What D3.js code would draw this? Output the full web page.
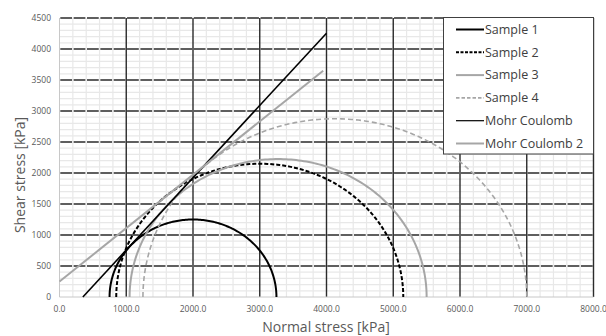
<!DOCTYPE html>
<html>
<head>
<meta charset="utf-8">
<script src="https://cdn.jsdelivr.net/npm/d3@7"></script>
<style>
  body { margin: 0; background: #fff; }
  svg { display: block; font-family: "Open Sans", "Noto Sans", sans-serif; }
</style>
</head>
<body>
<svg id="chart" width="606" height="336"></svg>
<script>
// Mohr circles: minor and major principal stresses (kPa)
const samples = ["Sample 1", "Sample 2", "Sample 3", "Sample 4"];
const sigma3 = [750, 850, 1050, 1250];
const sigma1 = [3250, 5150, 5500, 7000];

// Failure envelopes (normal stress, shear stress)
const envelopeNames = ["Mohr Coulomb", "Mohr Coulomb 2"];
const mohrCoulomb = [[350, 0], [4000, 4255]];
const mohrCoulomb2 = [[0, 250], [3950, 3650]];

// Axis ticks
const xTicks = [0, 1000, 2000, 3000, 4000, 5000, 6000, 7000, 8000];
const yTicks = [0, 500, 1000, 1500, 2000, 2500, 3000, 3500, 4000, 4500];

const svg = d3.select("#chart");
const x = d3.scaleLinear().domain([0, 8000]).range([59.5, 593.5]);
const y = d3.scaleLinear().domain([0, 4500]).range([297, 18]);

const grid = svg.append("g");

// minor grid
grid.selectAll(".mv").data(d3.range(200, 8000, 200).filter(v => v % 1000 !== 0))
  .join("line").attr("x1", d => x(d)).attr("x2", d => x(d))
  .attr("y1", y(0)).attr("y2", y(4500))
  .attr("stroke", "#e8e8e8").attr("stroke-width", 1.2);
grid.selectAll(".mh").data(d3.range(100, 4500, 100).filter(v => v % 500 !== 0))
  .join("line").attr("x1", x(0)).attr("x2", x(8000))
  .attr("y1", d => y(d)).attr("y2", d => y(d))
  .attr("stroke", "#e8e8e8").attr("stroke-width", 1.2);

// major horizontal grid (dashed)
const step = x(200) - x(0);
grid.selectAll(".Mh").data(yTicks.filter(v => v > 0))
  .join("line").attr("x1", x(0)).attr("x2", x(8000))
  .attr("y1", d => y(d)).attr("y2", d => y(d))
  .attr("stroke", "#2b2b2b").attr("stroke-width", 1.4)
  .attr("stroke-dasharray", `${step - 1.6},1.6`)
  .attr("stroke-dashoffset", -0.8);

// major vertical grid
grid.selectAll(".Mv").data(xTicks.filter(v => v > 0))
  .join("line").attr("x1", d => x(d)).attr("x2", d => x(d))
  .attr("y1", y(0)).attr("y2", y(4500))
  .attr("stroke", "#2b2b2b").attr("stroke-width", 1.4);

// axis lines
grid.append("line").attr("x1", x(0)).attr("x2", x(0)).attr("y1", y(0)).attr("y2", y(4500))
  .attr("stroke", "#c8c8c8").attr("stroke-width", 1);
grid.append("line").attr("x1", x(0)).attr("x2", x(8000)).attr("y1", y(0)).attr("y2", y(0))
  .attr("stroke", "#c8c8c8").attr("stroke-width", 1);

// tick labels
svg.append("g").selectAll("text").data(yTicks).join("text")
  .attr("x", 51).attr("y", d => y(d)).attr("dy", "0.35em")
  .attr("text-anchor", "end").attr("font-size", 8.5).attr("fill", "#595959")
  .text(d => d);
svg.append("g").selectAll("text").data(xTicks).join("text")
  .attr("x", d => x(d)).attr("y", 309).attr("dy", "0.35em")
  .attr("text-anchor", "middle").attr("font-size", 8.5).attr("fill", "#595959")
  .text(d => d3.format(".1f")(d));

// axis titles
svg.append("text").attr("x", 326).attr("y", 327).attr("dy", "0.35em")
  .attr("text-anchor", "middle").attr("font-size", 14).attr("fill", "#595959")
  .text("Normal stress [kPa]");
svg.append("text").attr("transform", "translate(20,175) rotate(-90)").attr("dy", "0.35em")
  .attr("text-anchor", "middle").attr("font-size", 14).attr("fill", "#595959")
  .text("Shear stress [kPa]");

// series styles
const styles = [
  { stroke: "#000", width: 2, dash: null },
  { stroke: "#000", width: 2, dash: "4,2" },
  { stroke: "#a6a6a6", width: 2, dash: null },
  { stroke: "#a6a6a6", width: 1.6, dash: "5,3" },
  { stroke: "#000", width: 1.6, dash: null },
  { stroke: "#a6a6a6", width: 2, dash: null }
];

const line = d3.line().x(d => x(d[0])).y(d => y(d[1]));
const plot = svg.append("g");

// Mohr circles (upper halves)
samples.forEach((name, i) => {
  const c = (sigma1[i] + sigma3[i]) / 2, r = (sigma1[i] - sigma3[i]) / 2;
  const pts = d3.range(0, 181).map(a => {
    const t = Math.PI * a / 180;
    return [c - r * Math.cos(t), r * Math.sin(t)];
  });
  const s = styles[i];
  plot.append("path").attr("d", line(pts)).attr("fill", "none")
    .attr("stroke", s.stroke).attr("stroke-width", s.width)
    .attr("stroke-dasharray", s.dash);
});

// envelopes
[mohrCoulomb, mohrCoulomb2].forEach((pts, j) => {
  const s = styles[4 + j];
  plot.append("path").attr("d", line(pts)).attr("fill", "none")
    .attr("stroke", s.stroke).attr("stroke-width", s.width);
});

// legend
const names = samples.concat(envelopeNames);
const lg = svg.append("g");
lg.append("rect").attr("x", 443.5).attr("y", 17.5).attr("width", 150).attr("height", 136.5)
  .attr("fill", "#fff").attr("stroke", "#404040").attr("stroke-width", 1);
names.forEach((n, i) => {
  const yy = 29.5 + i * 22.8;
  const s = styles[i];
  lg.append("line").attr("x1", 456).attr("x2", 484).attr("y1", yy).attr("y2", yy)
    .attr("stroke", s.stroke).attr("stroke-width", i === 4 ? 1.2 : s.width)
    .attr("stroke-dasharray", s.dash ? (i === 1 ? "3,1.5" : "3.5,2") : null);
  lg.append("text").attr("x", 485).attr("y", yy).attr("dy", "0.35em")
    .attr("font-size", 12.5).attr("fill", "#404040").text(n);
});
</script>
</body>
</html>
